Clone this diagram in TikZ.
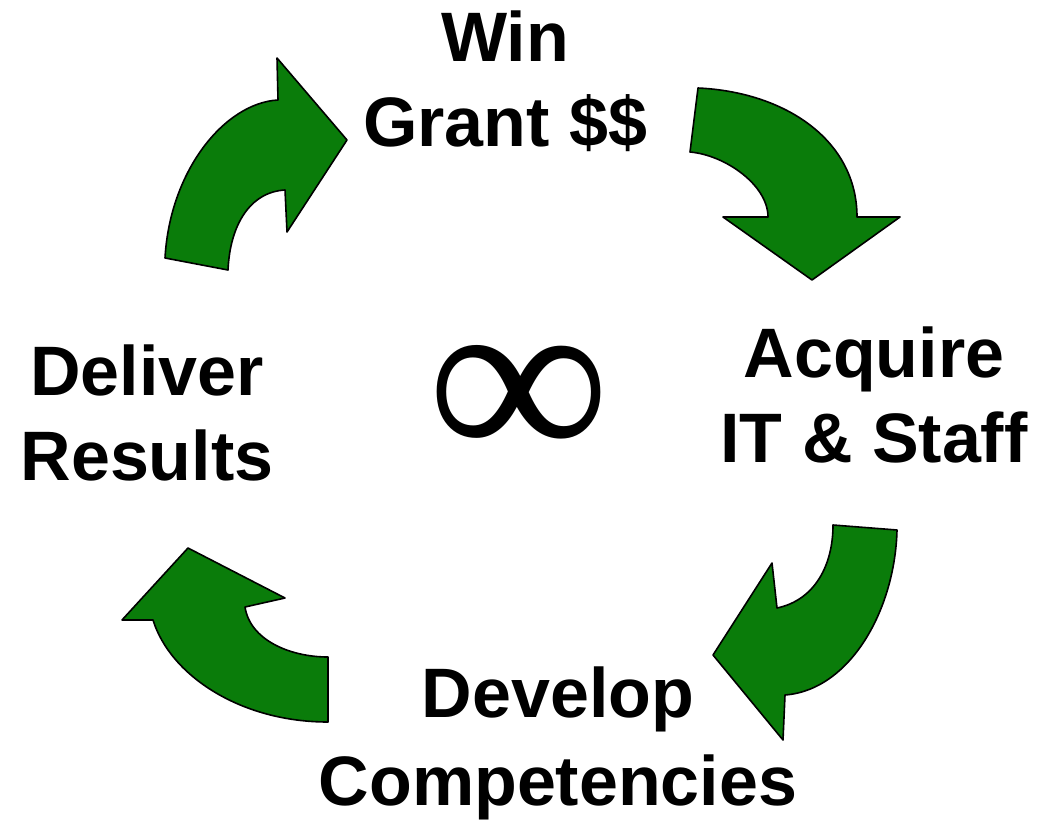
\documentclass[tikz,border=0pt]{standalone}
\usepackage{fontspec}
\setmainfont{Liberation Sans}
\newfontfamily\symfont{Liberation Serif}
\definecolor{arrowgreen}{RGB}{10,124,10}
\tikzset{
  cyclearrow/.style={fill=arrowgreen, draw=black, line width=1.6pt, line join=round},
  steplabel/.style={font=\bfseries\fontsize{70}{85}\selectfont, align=center, anchor=base, inner sep=0pt}
}
\begin{document}
\begin{tikzpicture}[x=1pt,y=-1pt]
\useasboundingbox (0,0) rectangle (1043,821);
\fill[white] (0,0) rectangle (1043,821);

% arrow: Deliver -> Win
\draw[cyclearrow] (165,258) -- (228,270) .. controls (230,225) and (250,192) .. (285,190)
  -- (287,232) -- (347,140) -- (277,58) -- (278,100)
  .. controls (225,103) and (170,170) .. (165,258) -- cycle;
% arrow: Win -> Acquire
\draw[cyclearrow] (698,88) -- (690,152) .. controls (725,155) and (768,185) .. (768,217)
  -- (723,217) -- (812,280) -- (900,217) -- (857,217)
  .. controls (857,140) and (785,92) .. (698,88) -- cycle;
% arrow: Acquire -> Develop
\draw[cyclearrow] (833,525) -- (897,530) .. controls (895,610) and (850,690) .. (785,695)
  -- (783,740) -- (713,655) -- (772,563) -- (777,608)
  .. controls (815,600) and (833,565) .. (833,525) -- cycle;
% arrow: Develop -> Deliver
\draw[cyclearrow] (328,657) -- (328,722) .. controls (240,722) and (170,675) .. (153,620)
  -- (122,620) -- (188,548) -- (285,598) -- (245,607)
  .. controls (250,640) and (290,657) .. (328,657) -- cycle;

\node[steplabel] (win) at (505,147) {Win\\Grant \$\$};
\node[steplabel] (acq) at (874,462) {Acquire\\IT \& Staff};
\node[steplabel] (dev) at (558,805) {Develop\\[3pt]Competencies};
\node[steplabel] (del) at (147,480) {Deliver\\Results};

\node[inner sep=0pt] (inf) at (519,404) {\resizebox{183pt}{118pt}{\symfont ∞}};
\end{tikzpicture}
\end{document}
